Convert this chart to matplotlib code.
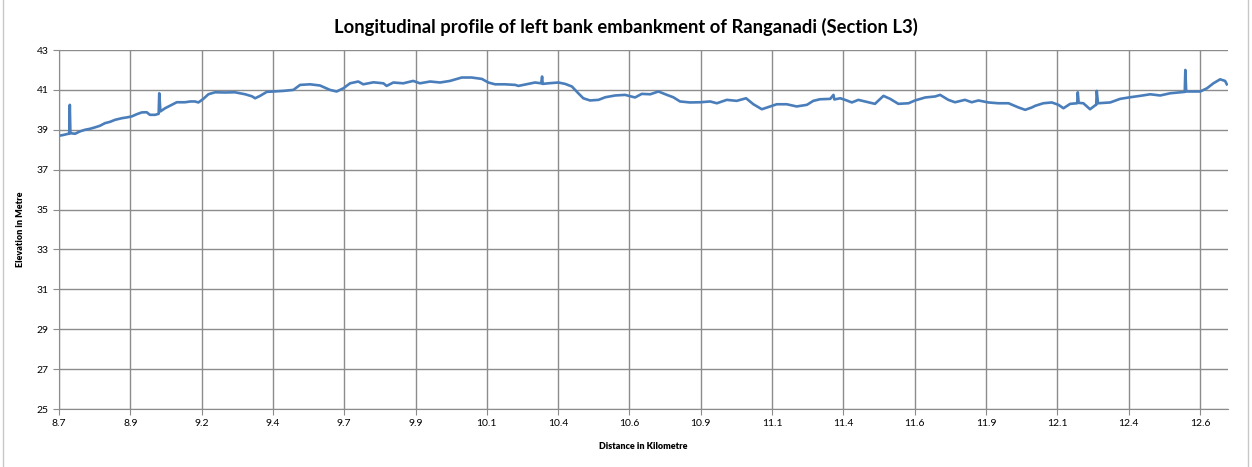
import numpy as np
import matplotlib.pyplot as plt
from matplotlib.lines import Line2D

# distance (km) and elevation (m)
dist_km = [8.700, 8.715, 8.732, 8.735, 8.737, 8.739, 8.755, 8.772, 8.789, 8.806, 8.823, 8.840,
           8.857, 8.875, 8.892, 8.915, 8.932, 8.949, 8.966, 8.983, 9.000, 9.011, 9.029, 9.041,
           9.043, 9.047, 9.063, 9.086, 9.103, 9.131, 9.150, 9.165, 9.177, 9.194, 9.211, 9.234,
           9.268, 9.302, 9.337, 9.360, 9.371, 9.388, 9.411, 9.433, 9.468, 9.502, 9.525, 9.559,
           9.593, 9.627, 9.650, 9.673, 9.696, 9.724, 9.741, 9.776, 9.810, 9.821, 9.844, 9.878,
           9.912, 9.935, 9.970, 10.004, 10.038, 10.078, 10.112, 10.147, 10.169, 10.192, 10.226,
           10.261, 10.272, 10.306, 10.329, 10.350, 10.353, 10.355, 10.374, 10.409, 10.432,
           10.455, 10.477, 10.494, 10.517, 10.546, 10.569, 10.603, 10.637, 10.671, 10.694,
           10.723, 10.751, 10.780, 10.802, 10.825, 10.859, 10.894, 10.928, 10.951, 10.985,
           11.019, 11.051, 11.076, 11.105, 11.133, 11.156, 11.190, 11.224, 11.259, 11.281,
           11.304, 11.339, 11.350, 11.353, 11.373, 11.390, 11.413, 11.435, 11.470, 11.492,
           11.521, 11.544, 11.572, 11.607, 11.629, 11.664, 11.698, 11.715, 11.743, 11.766,
           11.800, 11.823, 11.846, 11.880, 11.914, 11.949, 11.983, 12.006, 12.029, 12.040,
           12.068, 12.097, 12.120, 12.137, 12.160, 12.184, 12.186, 12.189, 12.205, 12.228,
           12.245, 12.249, 12.251, 12.255, 12.297, 12.331, 12.365, 12.399, 12.434, 12.468,
           12.502, 12.536, 12.552, 12.554, 12.557, 12.582, 12.605, 12.628, 12.650, 12.673,
           12.690, 12.696]
elev_m = [38.70, 38.74, 38.80, 38.80, 40.25, 38.83, 38.80, 38.92, 39.00, 39.05, 39.12, 39.20,
          39.33, 39.40, 39.50, 39.58, 39.62, 39.67, 39.78, 39.87, 39.88, 39.75, 39.75, 39.80,
          40.83, 39.92, 40.08, 40.25, 40.38, 40.38, 40.42, 40.42, 40.37, 40.55, 40.78, 40.88,
          40.87, 40.88, 40.78, 40.68, 40.58, 40.70, 40.90, 40.92, 40.95, 41.00, 41.25, 41.28,
          41.22, 41.00, 40.92, 41.08, 41.33, 41.42, 41.28, 41.38, 41.33, 41.20, 41.37, 41.33,
          41.45, 41.33, 41.42, 41.37, 41.45, 41.62, 41.62, 41.55, 41.37, 41.28, 41.28,
          41.25, 41.20, 41.30, 41.37, 41.33, 41.67, 41.30, 41.33, 41.37, 41.30,
          41.17, 40.83, 40.58, 40.47, 40.50, 40.63, 40.72, 40.75, 40.62, 40.80,
          40.78, 40.92, 40.75, 40.63, 40.42, 40.37, 40.38, 40.42, 40.33, 40.50,
          40.45, 40.58, 40.28, 40.03, 40.17, 40.28, 40.28, 40.17, 40.25, 40.45,
          40.53, 40.55, 40.75, 40.52, 40.58, 40.50, 40.37, 40.50, 40.38, 40.30,
          40.70, 40.55, 40.30, 40.33, 40.47, 40.62, 40.67, 40.75, 40.50, 40.38,
          40.50, 40.38, 40.47, 40.37, 40.33, 40.33, 40.12, 40.00, 40.12, 40.20,
          40.33, 40.37, 40.25, 40.08, 40.30, 40.33, 40.88, 40.35, 40.33, 40.03,
          40.22, 40.25, 40.95, 40.33, 40.37, 40.55, 40.63, 40.70, 40.78, 40.72,
          40.83, 40.88, 40.90, 42.00, 40.92, 40.92, 40.92, 41.08, 41.33, 41.53,
          41.45, 41.28]

tick_labels = ['8.7', '8.9', '9.2', '9.4', '9.7', '9.9', '10.1', '10.4', '10.6',
               '10.9', '11.1', '11.4', '11.6', '11.9', '12.1', '12.4', '12.6']
y_ticks = [25, 27, 29, 31, 33, 35, 37, 39, 41, 43]

plt.rcParams['font.family'] = ['Lato', 'DejaVu Sans']

fig = plt.figure(figsize=(12.52, 4.67), dpi=100)
ax = fig.add_axes([59/1252, 1 - 409/467, 1169/1252, 359/467])

ax.plot(dist_km, elev_m, color='#4a7ebb', lw=1.9, solid_joinstyle='round')

x0, step = 8.70, 0.244
ax.set_xticks([x0 + i*step for i in range(len(tick_labels))])
ax.set_xticklabels(tick_labels)
ax.set_yticks(y_ticks)
ax.set_xlim(8.70, 12.70)
ax.set_ylim(25, 43)

ax.grid(True, color='#8c8c8c', lw=1.0)
ax.set_axisbelow(True)
for s in ['top', 'right']:
    ax.spines[s].set_visible(False)
for s in ['left', 'bottom']:
    ax.spines[s].set_color('#8c8c8c')
ax.tick_params(axis='both', colors='#8c8c8c', labelcolor='black', labelsize=7.5, length=4)

ax.set_xlabel('Distance in Kilometre', fontsize=6.5, fontweight='heavy', labelpad=10)
ax.set_ylabel('Elevation in Metre', fontsize=6.5, fontweight='heavy', labelpad=8)
fig.text(0.5, 1 - 27/467, 'Longitudinal profile of left bank embankment of Ranganadi (Section L3)',
         ha='center', va='center', fontsize=13.2, fontweight='bold')

# chart frame
fig.add_artist(Line2D([3/1252, 3/1252], [0, 1], color='#c8c8c8', lw=1))
fig.add_artist(Line2D([1248/1252, 1248/1252], [0, 1], color='#c8c8c8', lw=1))

fig.savefig('out.png', dpi=100)
